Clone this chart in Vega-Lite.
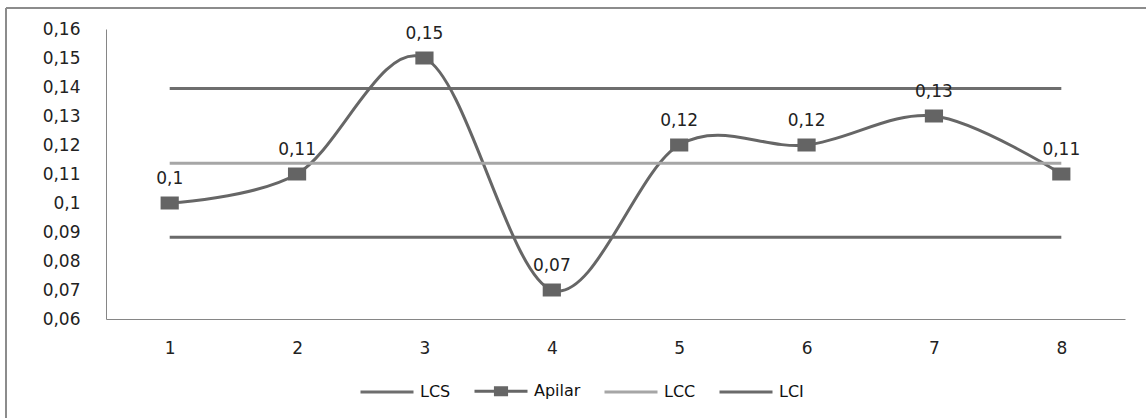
{
  "$schema": "https://vega.github.io/schema/vega-lite/v6.json",
  "autosize": "none",
  "padding": {"left": 6, "top": 8, "right": 0, "bottom": 0},
  "width": 1140,
  "height": 410,
  "background": "#ffffff",
  "config": {
    "view": {"stroke": "#8c8c8c", "strokeWidth": 2, "strokeDash": [1140, 1550, 410, 0]},
    "font": "DejaVu Sans"
  },
  "datasets": {
    "series": [
      {"muestra": 1, "serie": "LCS", "valor": 0.1395},
      {"muestra": 2, "serie": "LCS", "valor": 0.1395},
      {"muestra": 3, "serie": "LCS", "valor": 0.1395},
      {"muestra": 4, "serie": "LCS", "valor": 0.1395},
      {"muestra": 5, "serie": "LCS", "valor": 0.1395},
      {"muestra": 6, "serie": "LCS", "valor": 0.1395},
      {"muestra": 7, "serie": "LCS", "valor": 0.1395},
      {"muestra": 8, "serie": "LCS", "valor": 0.1395},
      {"muestra": 1, "serie": "Apilar", "valor": 0.10},
      {"muestra": 2, "serie": "Apilar", "valor": 0.11},
      {"muestra": 3, "serie": "Apilar", "valor": 0.15},
      {"muestra": 4, "serie": "Apilar", "valor": 0.07},
      {"muestra": 5, "serie": "Apilar", "valor": 0.12},
      {"muestra": 6, "serie": "Apilar", "valor": 0.12},
      {"muestra": 7, "serie": "Apilar", "valor": 0.13},
      {"muestra": 8, "serie": "Apilar", "valor": 0.11},
      {"muestra": 1, "serie": "LCC", "valor": 0.11375},
      {"muestra": 2, "serie": "LCC", "valor": 0.11375},
      {"muestra": 3, "serie": "LCC", "valor": 0.11375},
      {"muestra": 4, "serie": "LCC", "valor": 0.11375},
      {"muestra": 5, "serie": "LCC", "valor": 0.11375},
      {"muestra": 6, "serie": "LCC", "valor": 0.11375},
      {"muestra": 7, "serie": "LCC", "valor": 0.11375},
      {"muestra": 8, "serie": "LCC", "valor": 0.11375},
      {"muestra": 1, "serie": "LCI", "valor": 0.0882},
      {"muestra": 2, "serie": "LCI", "valor": 0.0882},
      {"muestra": 3, "serie": "LCI", "valor": 0.0882},
      {"muestra": 4, "serie": "LCI", "valor": 0.0882},
      {"muestra": 5, "serie": "LCI", "valor": 0.0882},
      {"muestra": 6, "serie": "LCI", "valor": 0.0882},
      {"muestra": 7, "serie": "LCI", "valor": 0.0882},
      {"muestra": 8, "serie": "LCI", "valor": 0.0882}
    ]
  },
  "data": {"name": "series"},
  "encoding": {
    "x": {
      "field": "muestra",
      "type": "quantitative",
      "scale": {"domain": [0.5, 8.5], "range": [100, 1119], "nice": false, "zero": false},
      "axis": {
        "orient": "bottom",
        "offset": -99,
        "values": [1, 2, 3, 4, 5, 6, 7, 8],
        "format": "d",
        "title": null,
        "grid": false,
        "ticks": false,
        "tickSize": 0,
        "domainColor": "#868686",
        "domainWidth": 1,
        "labelFont": "DejaVu Sans",
        "labelFontSize": 17,
        "labelColor": "#222222",
        "labelPadding": 21
      }
    },
    "y": {
      "field": "valor",
      "type": "quantitative",
      "scale": {"domain": [0.06, 0.16], "range": [311, 21], "nice": false, "zero": false},
      "axis": {
        "orient": "left",
        "offset": -100,
        "values": [0.06, 0.07, 0.08, 0.09, 0.1, 0.11, 0.12, 0.13, 0.14, 0.15, 0.16],
        "labelExpr": "replace(format(datum.value, '.2~f'), '.', ',')",
        "title": null,
        "grid": false,
        "ticks": false,
        "tickSize": 0,
        "domainColor": "#868686",
        "domainWidth": 1,
        "labelFont": "DejaVu Sans",
        "labelFontSize": 17,
        "labelColor": "#222222",
        "labelPadding": 26
      }
    }
  },
  "layer": [
    {
      "mark": {"type": "line", "interpolate": "cardinal", "strokeWidth": 3, "strokeCap": "butt"},
      "encoding": {
        "color": {
          "field": "serie",
          "type": "nominal",
          "sort": ["LCS", "Apilar", "LCC", "LCI"],
          "scale": {
            "domain": ["LCS", "Apilar", "LCC", "LCI"],
            "range": ["#6e6e6e", "#666666", "#a6a6a6", "#6a6a6a"]
          },
          "legend": {
            "title": null,
            "orient": "none",
            "direction": "horizontal",
            "legendX": 353,
            "legendY": 355,
            "symbolSize": 2809,
            "symbolStrokeWidth": 3,
            "columnPadding": 17,
            "labelOffset": 5,
            "labelFont": "DejaVu Sans",
            "labelFontSize": 16,
            "labelColor": "#111111",
            "encode": {
              "symbols": {
                "update": {
                  "shape": {"signal": "datum.value === 'Apilar' ? 'M-1,0H1M-0.21,-0.13H0.21V0.13H-0.21Z' : 'M-1,0H1'"},
                  "fill": {"value": "#646464"},
                  "fillOpacity": {"value": 1}
                }
              }
            }
          }
        },
        "order": {"field": "muestra", "type": "quantitative"}
      }
    },
    {
      "transform": [{"filter": "datum.serie === 'Apilar'"}],
      "mark": {
        "type": "point",
        "shape": "M-0.7,-0.5H0.7V0.5H-0.7Z",
        "size": 676,
        "filled": true,
        "opacity": 1,
        "color": "#646464",
        "strokeWidth": 0
      }
    },
    {
      "transform": [
        {"filter": "datum.serie === 'Apilar'"},
        {"calculate": "replace(format(datum.valor, '.2~f'), '.', ',')", "as": "etiqueta"}
      ],
      "mark": {
        "type": "text",
        "dy": -24,
        "baseline": "middle",
        "align": "center",
        "font": "DejaVu Sans",
        "fontSize": 17,
        "color": "#222222"
      },
      "encoding": {"text": {"field": "etiqueta"}}
    }
  ]
}
